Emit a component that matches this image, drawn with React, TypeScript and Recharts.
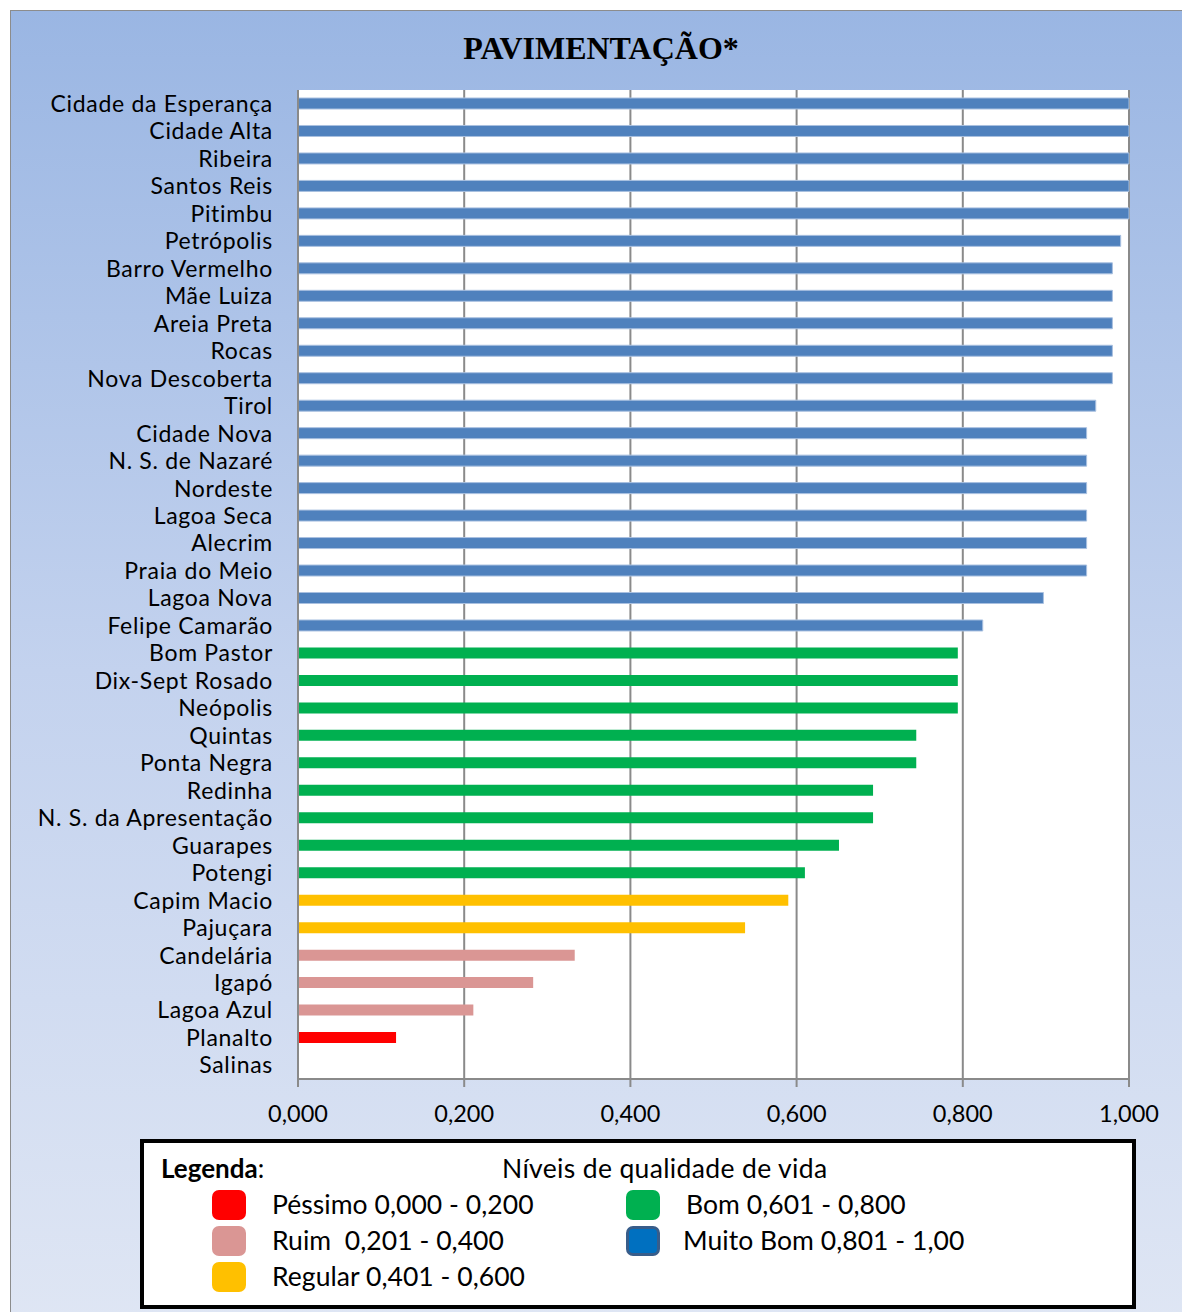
import { BarChart, Bar, XAxis, YAxis, CartesianGrid, Cell } from 'recharts'

// bairros em ordem decrescente de pavimentação
const bairros = [
  'Cidade da Esperança', 'Cidade Alta', 'Ribeira', 'Santos Reis', 'Pitimbu',
  'Petrópolis', 'Barro Vermelho', 'Mãe Luiza', 'Areia Preta', 'Rocas',
  'Nova Descoberta', 'Tirol', 'Cidade Nova', 'N. S. de Nazaré', 'Nordeste',
  'Lagoa Seca', 'Alecrim', 'Praia do Meio', 'Lagoa Nova', 'Felipe Camarão',
  'Bom Pastor', 'Dix-Sept Rosado', 'Neópolis', 'Quintas', 'Ponta Negra',
  'Redinha', 'N. S. da Apresentação', 'Guarapes', 'Potengi', 'Capim Macio',
  'Pajuçara', 'Candelária', 'Igapó', 'Lagoa Azul', 'Planalto', 'Salinas',
]

const indices = [
  1.0, 1.0, 1.0, 1.0, 1.0,
  0.99, 0.98, 0.98, 0.98, 0.98,
  0.98, 0.96, 0.949, 0.949, 0.949,
  0.949, 0.949, 0.949, 0.897, 0.824,
  0.794, 0.794, 0.794, 0.744, 0.744,
  0.692, 0.692, 0.651, 0.61, 0.59,
  0.538, 0.333, 0.283, 0.211, 0.118, 0,
]

const xTicks = [0, 0.2, 0.4, 0.6, 0.8, 1.0]
const bordas = Array.from({ length: bairros.length + 1 }, (_, i) => i)

const niveis = [
  { nome: 'Péssimo 0,000 - 0,200', cor: '#ff0000', max: 0.2 },
  { nome: 'Ruim  0,201 - 0,400', cor: '#da9694', max: 0.4 },
  { nome: 'Regular 0,401 - 0,600', cor: '#ffc000', max: 0.6 },
  { nome: 'Bom 0,601 - 0,800', cor: '#00b050', max: 0.8 },
  { nome: 'Muito Bom 0,801 - 1,00', cor: '#4f81bd', max: 1.01 },
]

const corDe = (v: number) => (niveis.find(n => v <= n.max) ?? niveis[4]).cor

const data = bairros.map((nome, i) => ({ nome, valor: indices[i] }))

const fmt = (v: number) => v.toFixed(3).replace('.', ',')

const FONT = 'Lato, "Noto Sans", sans-serif'

function Swatch({ cor, borda }: { cor: string; borda?: string }) {
  return (
    <div style={{
      width: 34, height: 30, borderRadius: 7, background: cor,
      boxSizing: 'border-box', border: borda ? `3px solid ${borda}` : 'none',
    }} />
  )
}

function Legenda() {
  const row = (cor: string, txt: string, gap: number, borda?: string) => (
    <div style={{ display: 'flex', alignItems: 'center', height: 36 }}>
      <Swatch cor={cor} borda={borda} />
      <span style={{ marginLeft: gap, whiteSpace: 'pre' }}>{txt}</span>
    </div>
  )
  return (
    <div style={{
      position: 'absolute', left: 129, top: 1128, width: 996, height: 170,
      boxSizing: 'border-box', border: '4px solid #000', background: '#fff',
      fontFamily: FONT, fontSize: 26.5, letterSpacing: 0.05, color: '#000', lineHeight: 1.2,
    }}>
      <div style={{ position: 'absolute', left: 17, top: 10, fontSize: 26, letterSpacing: 0 }}>
        <b>Legenda</b>:
      </div>
      <div style={{ position: 'absolute', left: 358, top: 10, letterSpacing: 0.35 }}>
        Níveis de qualidade de vida
      </div>
      <div style={{ position: 'absolute', left: 68, top: 44 }}>
        {row('#ff0000', niveis[0].nome, 26)}
        {row('#da9694', niveis[1].nome, 26)}
        {row('#ffc000', niveis[2].nome, 26)}
      </div>
      <div style={{ position: 'absolute', left: 482, top: 44 }}>
        {row('#00b050', niveis[3].nome, 26)}
        {row('#0070c0', niveis[4].nome, 23, '#385d8a')}
      </div>
    </div>
  )
}

export default function App() {
  return (
    <div style={{
      position: 'fixed', left: 0, top: 0, width: 1182, height: 1312,
      overflow: 'hidden', background: '#fff',
    }}>
      <div style={{
        position: 'absolute', left: 10, top: 10, width: 1190, height: 1320,
        boxSizing: 'border-box', border: '1px solid #8c8c8c',
        background: 'linear-gradient(180deg, #9ab6e3 0%, #c3d2ee 50%, #dfe6f4 100%)',
      }}>
        <div style={{
          position: 'absolute', top: 19, left: 0, width: 1180, textAlign: 'center',
          fontFamily: '"Liberation Serif", serif', fontWeight: 'bold', fontSize: 32,
        }}>
          PAVIMENTAÇÃO*
        </div>
        <BarChart
          width={1170} height={1120} data={data} layout="vertical"
          margin={{ top: 79, right: 52, left: 0, bottom: 12 }}
          barCategoryGap={8}
        >
          <CartesianGrid horizontal={false} stroke="#8a8a8a" strokeWidth={2} fill="#ffffff" />
          <XAxis
            type="number" dataKey="valor" domain={[0, 1]} ticks={xTicks} tickFormatter={fmt}
            height={40} tickSize={8} tickMargin={18}
            stroke="#8a8a8a" strokeWidth={2}
            tick={{ fontSize: 23.5, fill: '#000', fontFamily: FONT }}
          />
          <YAxis
            yAxisId="cat" type="category" dataKey="nome" width={287}
            tickLine={false} axisLine={{ stroke: '#8a8a8a', strokeWidth: 2 }}
            tickSize={8} tickMargin={17} interval={0}
            tick={{ fontSize: 23, fill: '#000', fontFamily: FONT, letterSpacing: 0.7 }}
          />
          <YAxis
            yAxisId="bordas" type="number" domain={[0, bairros.length]} ticks={bordas}
            width={0} tick={false} axisLine={false} tickSize={8} interval={0}
            tickLine={{ stroke: '#8a8a8a', strokeWidth: 2 }}
          />
          <Bar yAxisId="cat" dataKey="valor" barSize={11} isAnimationActive={false}>
            {data.map((d, i) => {
              const cor = corDe(d.valor)
              return (
                <Cell key={i} fill={cor}
                  stroke={cor === '#4f81bd' ? '#a9c0e0' : 'none'} strokeWidth={1} />
              )
            })}
          </Bar>
        </BarChart>
        <Legenda />
      </div>
    </div>
  )
}
